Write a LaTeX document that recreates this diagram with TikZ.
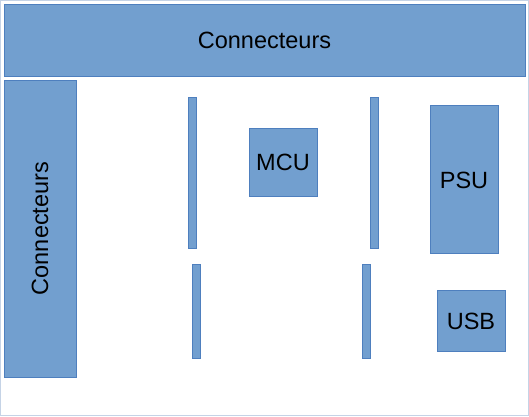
\documentclass[tikz,border=0pt]{standalone}
\usepackage{fontspec}
\setmainfont{Liberation Sans}
\definecolor{boxfill}{HTML}{729FCF}
\definecolor{boxline}{HTML}{4E7FBE}
\definecolor{frameline}{HTML}{C5D3E6}
\begin{document}
\begin{tikzpicture}[x=1pt,y=-1pt,
  blk/.style={draw=boxline,fill=boxfill,line width=0.8pt},
  lbl/.style={font=\fontsize{23.5}{26}\selectfont,text=black}]
\useasboundingbox (0,0) rectangle (529,416);
\draw[frameline,line width=1pt] (0.5,0.5) rectangle (528.5,415.5);
\draw[blk] (4,4) rectangle (525,76);
\node[lbl] (top) at (264.5,40) {Connecteurs};
\draw[blk] (4,80) rectangle (76,377);
\node[lbl,rotate=90] (left) at (40,228.5) {Connecteurs};
\draw[blk] (188,97) rectangle (196,248);
\draw[blk] (192,264) rectangle (200,358);
\draw[blk] (370,97) rectangle (378,248);
\draw[blk] (362,264) rectangle (370,358);
\draw[blk] (249,128) rectangle (317,196);
\node[lbl] (mcu) at (283,162) {MCU};
\draw[blk] (430,105) rectangle (498,253);
\node[lbl] (psu) at (464,180) {PSU};
\draw[blk] (437,290) rectangle (505,351);
\node[lbl] (usb) at (471,321) {USB};
\end{tikzpicture}
\end{document}
